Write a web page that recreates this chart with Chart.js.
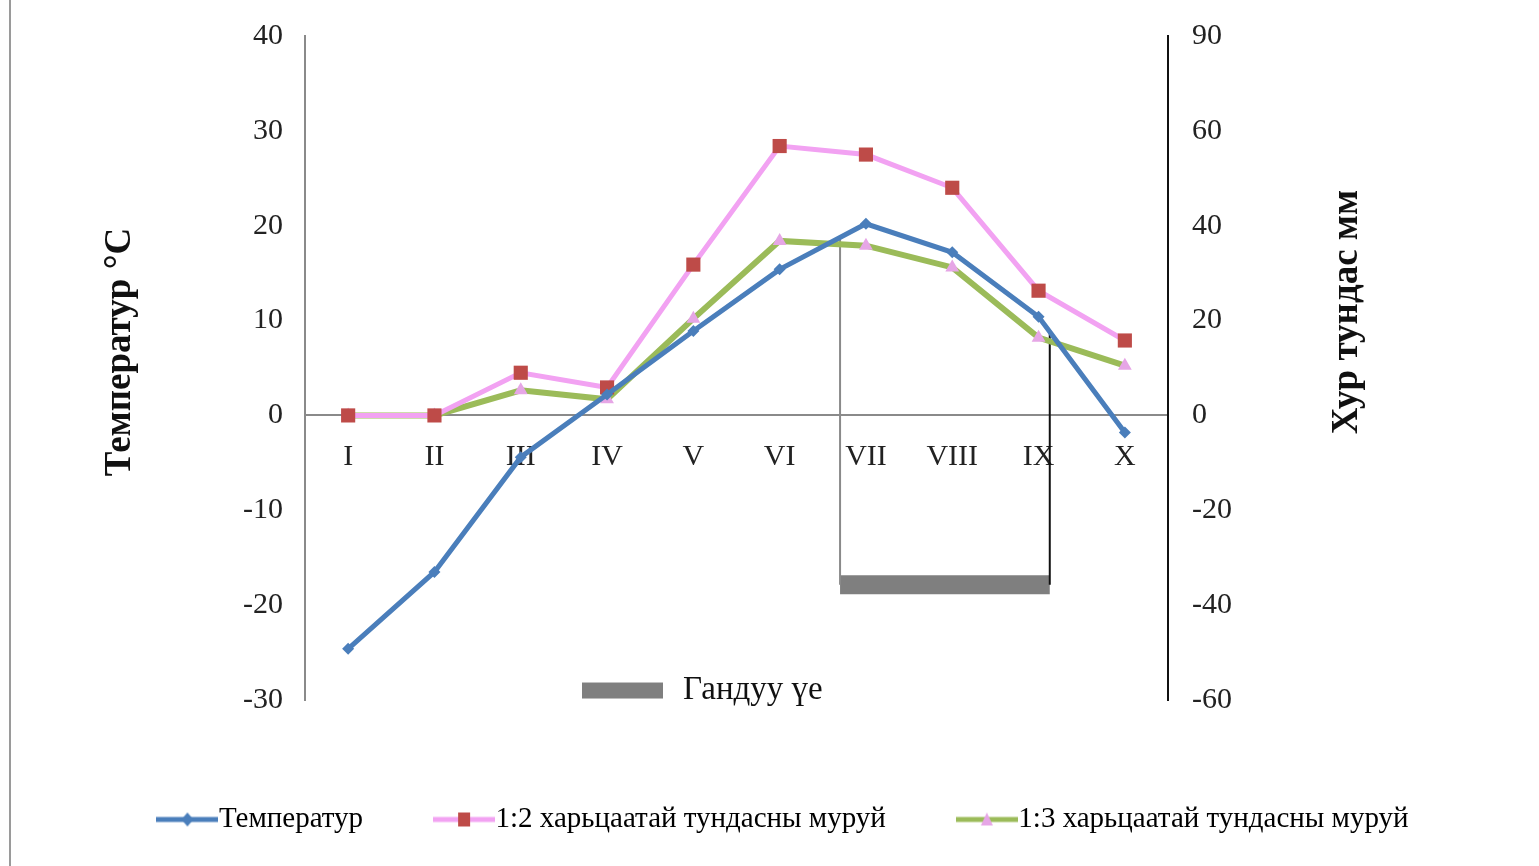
<!DOCTYPE html>
<html>
<head>
<meta charset="utf-8">
<script src="https://cdn.jsdelivr.net/npm/chart.js@4"></script>
<style>
  html, body { margin: 0; padding: 0; background: #fff; }
  #wrap { position: relative; width: 1539px; height: 866px; }
  #edge { position: absolute; left: 9px; top: 0; width: 2px; height: 866px; background: #9a9a9a; }
  canvas { position: absolute; left: 0; top: 0; }
</style>
</head>
<body>
<div id="wrap">
  <div id="edge"></div>
  <canvas id="climateCanvas" width="1539" height="866"></canvas>
</div>
<script>
// Months (x axis)
const months = ["I", "II", "III", "IV", "V", "VI", "VII", "VIII", "IX", "X"];

// Series values
const temperature = [-24.6, -16.5, -4.4, 2.2, 8.9, 15.4, 20.2, 17.2, 10.4, -1.8];
const precip12 = [0, 0, 9, 5.9, 31.8, 56.8, 55, 48, 26.3, 15.8];
const precip13 = [0, 0, 5.3, 3.4, 20.4, 36.8, 35.8, 31.2, 16.4, 10.5];

const seriesNames = ["Температур", "1:2 харьцаатай тундасны муруй", "1:3 харьцаатай тундасны муруй"];

// Dry period (temperature above the 1:3 curve)
const dryBounds = [6.7, 9.13];
const dryTops = [18.9, 8.7];
const dryLevel = -17.85;
const dryLabel = "Гандуу үе";

// Axis ticks
const leftTicks = [-30, -20, -10, 0, 10, 20, 30, 40];
const rightTicks = [-60, -40, -20, 0, 20, 40, 60, 80];
const rightTickLabels = ["-60", "-40", "-20", "0", "20", "40", "60", "90"];

const leftTitle = "Температур °C";
const rightTitle = "Хур тундас мм";

const FONT = "'Liberation Serif', 'Times New Roman', serif";
const colors = {
  temp: "#4a7ebb",
  p12: "#f2a2f2",
  p12Mark: "#be4b48",
  p13: "#9bbb59",
  p13Mark: "#e6a6e6",
  dry: "#7f7f7f",
};

const toXY = (arr) => arr.map((v, i) => ({ x: i + 1, y: v }));

// small canvas used as legend icon: a short line with the marker on it
function legendIcon(i) {
  const c = document.createElement("canvas");
  c.width = 62;
  c.height = 22;
  const g = c.getContext("2d");
  const lineCol = [colors.temp, colors.p12, colors.p13][i];
  g.strokeStyle = lineCol;
  g.lineWidth = 5;
  g.beginPath();
  g.moveTo(0, 11);
  g.lineTo(62, 11);
  g.stroke();
  if (i === 0) {
    g.fillStyle = colors.temp;
    g.beginPath();
    g.moveTo(31, 4); g.lineTo(37, 11); g.lineTo(31, 18); g.lineTo(25, 11);
    g.fill();
  } else if (i === 1) {
    g.fillStyle = colors.p12Mark;
    g.fillRect(25, 4, 12, 14);
  } else {
    g.fillStyle = colors.p13Mark;
    g.beginPath();
    g.moveTo(31, 4); g.lineTo(37, 17); g.lineTo(25, 17);
    g.fill();
  }
  return c;
}

// axis titles and the "dry period" key, drawn as text
const extraText = {
  id: "extraText",
  afterDraw(chart) {
    const ctx = chart.ctx;
    const y = chart.scales.y;
    ctx.save();
    ctx.fillStyle = "#111";
    ctx.font = "bold 37px " + FONT;
    ctx.textAlign = "center";
    ctx.textBaseline = "middle";

    ctx.save();
    ctx.translate(120, 352);
    ctx.rotate(-Math.PI / 2);
    ctx.fillText(leftTitle, 0, 0);
    ctx.restore();

    ctx.save();
    ctx.translate(1347, 312);
    ctx.rotate(-Math.PI / 2);
    ctx.fillText(rightTitle, 0, 0);
    ctx.restore();

    // key for the dry period bar
    const ky = y.getPixelForValue(-29);
    ctx.fillStyle = colors.dry;
    ctx.fillRect(582, ky - 8, 81, 16);
    ctx.fillStyle = "#111";
    ctx.font = "33px " + FONT;
    ctx.textAlign = "left";
    ctx.fillText(dryLabel, 683, ky);
    ctx.restore();
  },
};

const canvas = document.getElementById("climateCanvas");

new Chart(canvas, {
  type: "line",
  data: {
    datasets: [
      {
        label: seriesNames[0],
        data: toXY(temperature),
        yAxisID: "y",
        borderColor: colors.temp,
        backgroundColor: colors.temp,
        borderWidth: 5,
        pointStyle: "rectRot",
        pointRadius: 6,
        pointBorderWidth: 0,
        tension: 0,
      },
      {
        label: seriesNames[1],
        data: toXY(precip12),
        yAxisID: "y2",
        borderColor: colors.p12,
        backgroundColor: colors.p12Mark,
        borderWidth: 5,
        pointStyle: "rect",
        pointRadius: 10,
        pointBorderWidth: 0,
        tension: 0,
      },
      {
        label: seriesNames[2],
        data: toXY(precip13),
        yAxisID: "y2",
        borderColor: colors.p13,
        backgroundColor: colors.p13Mark,
        borderWidth: 6,
        pointStyle: "triangle",
        pointRadius: 8,
        pointBorderWidth: 0,
        tension: 0,
      },
      {
        label: "dry-left",
        data: [{ x: dryBounds[0], y: dryTops[0] }, { x: dryBounds[0], y: dryLevel }],
        yAxisID: "y",
        borderColor: "#8a8a8a",
        borderWidth: 2,
        pointRadius: 0,
      },
      {
        label: "dry-right",
        data: [{ x: dryBounds[1], y: dryTops[1] }, { x: dryBounds[1], y: dryLevel }],
        yAxisID: "y",
        borderColor: "#111",
        borderWidth: 2,
        pointRadius: 0,
      },
      {
        label: "dry-bar",
        data: [{ x: dryBounds[0], y: dryLevel }, { x: dryBounds[1], y: dryLevel }],
        yAxisID: "y",
        borderColor: colors.dry,
        borderWidth: 19,
        borderCapStyle: "butt",
        pointRadius: 0,
      },
    ],
  },
  options: {
    responsive: false,
    animation: false,
    layout: { padding: { left: 40, right: 0, top: 35, bottom: 22 } },
    scales: {
      x: {
        type: "linear",
        position: { y: 0 },
        min: 0.5,
        max: 10.5,
        afterBuildTicks: (s) => { s.ticks = months.map((m, i) => ({ value: i + 1 })); },
        grid: { display: false, drawTicks: false },
        border: { display: true, color: "#8a8a8a", width: 2 },
        ticks: {
          padding: 24,
          color: "#222",
          font: { family: FONT, size: 30 },
          maxRotation: 0,
          autoSkip: false,
          callback: (v) => months[v - 1],
        },
      },
      pad: {
        type: "linear",
        position: "bottom",
        display: true,
        grid: { display: false, drawTicks: false },
        border: { display: false },
        ticks: { display: false },
        afterFit: (s) => { s.height = 21; },
      },
      y: {
        position: "left",
        min: -30,
        max: 40,
        afterBuildTicks: (s) => { s.ticks = leftTicks.map((v) => ({ value: v })); },
        afterFit: (s) => { s.width = 265; },
        grid: { display: false, drawTicks: false },
        border: { display: true, color: "#8a8a8a", width: 2 },
        ticks: { padding: 22, color: "#222", font: { family: FONT, size: 30, lineHeight: 0.8 } },
      },
      y2: {
        position: "right",
        min: -60,
        max: 80,
        afterBuildTicks: (s) => { s.ticks = rightTicks.map((v) => ({ value: v })); },
        afterFit: (s) => { s.width = 371; },
        grid: { display: false, drawTicks: false },
        border: { display: true, color: "#111", width: 2 },
        ticks: {
          padding: 24,
          color: "#222",
          font: { family: FONT, size: 30, lineHeight: 0.8 },
          callback: (v, i) => rightTickLabels[i],
        },
      },
    },
    plugins: {
      legend: {
        position: "bottom",
        labels: {
          usePointStyle: true,
          pointStyleWidth: 34,
          padding: 84,
          color: "#111",
          font: { family: FONT, size: 29 },
          generateLabels: () =>
            seriesNames.map((name, i) => ({
              text: name,
              pointStyle: legendIcon(i),
              datasetIndex: i,
              hidden: false,
              lineWidth: 0,
              fillStyle: "transparent",
              strokeStyle: "transparent",
            })),
        },
      },
      tooltip: { enabled: false },
    },
  },
  plugins: [extraText],
});
</script>
</body>
</html>
